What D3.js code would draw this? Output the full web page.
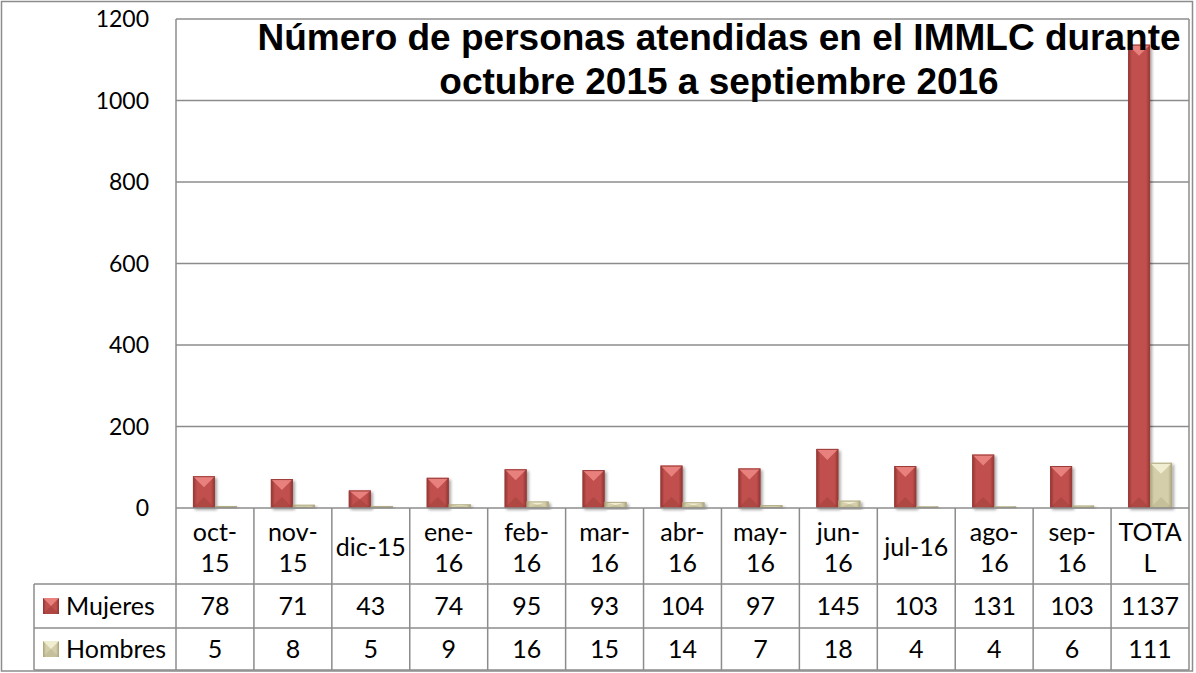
<!DOCTYPE html>
<html>
<head>
<meta charset="utf-8">
<script src="https://cdn.jsdelivr.net/npm/d3@7"></script>
<style>
  body { margin: 0; background: #fff; }
  svg text { font-family: Lato, "Open Sans", sans-serif; }
</style>
</head>
<body>
<div id="chart"></div>
<script>
// --- datos ---
const categorias = ["oct-15", "nov-15", "dic-15", "ene-16", "feb-16", "mar-16", "abr-16",
                    "may-16", "jun-16", "jul-16", "ago-16", "sep-16", "TOTAL"];
// cómo se parte cada etiqueta en la tabla (Excel las corta así)
const etiquetas = [["oct-", "15"], ["nov-", "15"], ["dic-15"], ["ene-", "16"], ["feb-", "16"],
                   ["mar-", "16"], ["abr-", "16"], ["may-", "16"], ["jun-", "16"], ["jul-16"],
                   ["ago-", "16"], ["sep-", "16"], ["TOTA", "L"]];
const series = ["Mujeres", "Hombres"];
const mujeres = [78, 71, 43, 74, 95, 93, 104, 97, 145, 103, 131, 103, 1137];
const hombres = [5, 8, 5, 9, 16, 15, 14, 7, 18, 4, 4, 6, 111];
const ticksY = [0, 200, 400, 600, 800, 1000, 1200];
const titulo = ["Número de personas atendidas en el IMMLC durante", "octubre 2015 a septiembre 2016"];

const W = 1196, H = 673;
const plot = { left: 176, right: 1189, top: 19, bottom: 508 };
const filas = { head: 584, r1: 628, r2: 670 };
const leyendaX = 34;
const gris = "#8c8c8c";
const fuenteTabla = 25;

const colores = {
  Mujeres: { base: "#c0504d", claro: "#ef8a86", oscuro: "#8f3432", borde: "#9b3d3a" },
  Hombres: { base: "#d4cfaa", claro: "#f6f2d8", oscuro: "#a8a27c", borde: "#b0aa85" }
};

const svg = d3.select("#chart").append("svg")
  .attr("width", W).attr("height", H);

const defs = svg.append("defs");
series.forEach(s => {
  const g = defs.append("linearGradient").attr("id", "grad-" + s)
    .attr("x1", 0).attr("x2", 1).attr("y1", 0).attr("y2", 0);
  g.append("stop").attr("offset", "0%").attr("stop-color", colores[s].oscuro);
  g.append("stop").attr("offset", "18%").attr("stop-color", colores[s].base);
  g.append("stop").attr("offset", "82%").attr("stop-color", colores[s].base);
  g.append("stop").attr("offset", "100%").attr("stop-color", colores[s].oscuro);
});
const sombra = defs.append("filter").attr("id", "sombra")
  .attr("x", "-30%").attr("y", "-10%").attr("width", "160%").attr("height", "130%");
sombra.append("feGaussianBlur").attr("in", "SourceAlpha").attr("stdDeviation", 1.5);
sombra.append("feOffset").attr("dx", 1.5).attr("dy", 1.5).attr("result", "b");
sombra.append("feComponentTransfer").append("feFuncA").attr("type", "linear").attr("slope", 0.35);
const merge = sombra.append("feMerge");
merge.append("feMergeNode");
merge.append("feMergeNode").attr("in", "SourceGraphic");

// --- escalas ---
const x = d3.scaleBand().domain(categorias).range([plot.left, plot.right]).padding(0);
const xs = d3.scaleBand().domain(series).range([0, x.bandwidth()])
  .paddingInner(0).paddingOuter(0.77);
const y = d3.scaleLinear().domain([0, 1200]).range([plot.bottom, plot.top]);

// borde exterior
svg.append("rect").attr("x", 1.5).attr("y", 1.5).attr("width", 1191).attr("height", 669.5)
  .attr("fill", "none").attr("stroke", gris).attr("stroke-width", 1.5);

// líneas de la cuadrícula
svg.append("g").selectAll("line").data(ticksY.slice(1)).join("line")
  .attr("x1", plot.left).attr("x2", plot.right)
  .attr("y1", d => y(d)).attr("y2", d => y(d))
  .attr("stroke", gris).attr("stroke-width", 1.5);

// eje y (solo etiquetas)
svg.append("g").selectAll("text").data(ticksY).join("text")
  .attr("x", 149).attr("y", d => y(d)).attr("dy", "0.36em")
  .attr("text-anchor", "end").attr("font-size", 23).attr("fill", "#000")
  .text(d => d);

// eje izquierdo y borde derecho
svg.append("line").attr("x1", plot.left).attr("x2", plot.left).attr("y1", plot.top).attr("y2", filas.r2)
  .attr("stroke", gris).attr("stroke-width", 1.5);
svg.append("line").attr("x1", plot.right).attr("x2", plot.right).attr("y1", plot.top).attr("y2", filas.r2)
  .attr("stroke", gris).attr("stroke-width", 1.5);

// --- barras con bisel ---
const datos = [];
categorias.forEach((c, i) => {
  datos.push({ cat: c, serie: "Mujeres", valor: mujeres[i] });
  datos.push({ cat: c, serie: "Hombres", valor: hombres[i] });
});

const barras = svg.append("g").selectAll("g").data(datos).join("g")
  .attr("filter", "url(#sombra)");
barras.each(function(d) {
  const g = d3.select(this);
  const x0 = x(d.cat) + xs(d.serie), w = xs.bandwidth();
  const y0 = y(d.valor), y1 = y(0), h = y1 - y0;
  const t = Math.min(w / 2, h / 2);
  g.append("rect").attr("x", x0).attr("y", y0).attr("width", w).attr("height", h)
    .attr("fill", `url(#grad-${d.serie})`);
  // triángulo superior claro
  g.append("path")
    .attr("d", `M${x0},${y0} L${x0 + w},${y0} L${x0 + w / 2},${y0 + t} Z`)
    .attr("fill", colores[d.serie].claro).attr("opacity", 0.85);
  // triángulo inferior oscuro
  g.append("path")
    .attr("d", `M${x0},${y1} L${x0 + w},${y1} L${x0 + w / 2},${y1 - t} Z`)
    .attr("fill", colores[d.serie].oscuro).attr("opacity", 0.35);
  g.append("rect").attr("x", x0 + 0.5).attr("y", y0 + 0.5).attr("width", w - 1).attr("height", Math.max(0, h - 1))
    .attr("fill", "none").attr("stroke", colores[d.serie].borde).attr("stroke-width", 1);
});

// --- tabla de datos ---
const tabla = svg.append("g");
tabla.append("line").attr("x1", plot.left).attr("x2", plot.right).attr("y1", plot.bottom).attr("y2", plot.bottom)
  .attr("stroke", gris).attr("stroke-width", 1.5);
[filas.head, filas.r1, filas.r2].forEach(yy => {
  tabla.append("line").attr("x1", leyendaX).attr("x2", plot.right).attr("y1", yy).attr("y2", yy)
    .attr("stroke", gris).attr("stroke-width", 1.5);
});
tabla.append("line").attr("x1", leyendaX).attr("x2", leyendaX).attr("y1", filas.head).attr("y2", filas.r2)
  .attr("stroke", gris).attr("stroke-width", 1.5);
// líneas verticales entre categorías
tabla.selectAll("line.v").data(categorias.slice(1)).join("line").attr("class", "v")
  .attr("x1", d => x(d)).attr("x2", d => x(d)).attr("y1", plot.bottom).attr("y2", filas.r2)
  .attr("stroke", gris).attr("stroke-width", 1.5);

// etiquetas de categoría
const cab = tabla.selectAll("text.cab").data(categorias).join("text").attr("class", "cab")
  .attr("text-anchor", "middle").attr("font-size", fuenteTabla).attr("fill", "#000")
  .attr("x", d => x(d) + x.bandwidth() / 2);
cab.each(function(d, i) {
  const lineas = etiquetas[i];
  const centro = (plot.bottom + filas.head) / 2 + 1;
  const alto = 31;
  lineas.forEach((l, j) => {
    d3.select(this).append("tspan")
      .attr("x", x(d) + x.bandwidth() / 2)
      .attr("y", centro + (j - (lineas.length - 1) / 2) * alto)
      .attr("dy", "0.36em").text(l);
  });
});

// valores
[[mujeres, filas.head, filas.r1], [hombres, filas.r1, filas.r2]].forEach(([vals, a, b]) => {
  tabla.append("g").selectAll("text").data(vals).join("text")
    .attr("x", (d, i) => x(categorias[i]) + x.bandwidth() / 2)
    .attr("y", (a + b) / 2).attr("dy", "0.36em")
    .attr("text-anchor", "middle").attr("font-size", fuenteTabla).attr("fill", "#000")
    .text(d => d);
});

// leyenda dentro de la tabla
series.forEach((s, i) => {
  const a = i === 0 ? filas.head : filas.r1, b = i === 0 ? filas.r1 : filas.r2;
  const cy = (a + b) / 2;
  const k = 16;
  const gx = 43, gy = cy - k / 2;
  tabla.append("rect").attr("x", gx).attr("y", gy).attr("width", k).attr("height", k)
    .attr("fill", `url(#grad-${s})`);
  tabla.append("path").attr("d", `M${gx},${gy} L${gx + k},${gy} L${gx + k / 2},${gy + k / 2} Z`)
    .attr("fill", colores[s].claro).attr("opacity", 0.85);
  tabla.append("path").attr("d", `M${gx},${gy + k} L${gx + k},${gy + k} L${gx + k / 2},${gy + k / 2} Z`)
    .attr("fill", colores[s].oscuro).attr("opacity", 0.35);
  tabla.append("text").attr("x", 66).attr("y", cy).attr("dy", "0.36em")
    .attr("font-size", fuenteTabla).attr("fill", "#000").text(s);
});

// --- título ---
svg.append("g").selectAll("text").data(titulo).join("text")
  .attr("x", 719).attr("y", (d, i) => 50 + i * 44)
  .attr("text-anchor", "middle").attr("font-size", 37).attr("font-weight", "bold")
  .style("font-family", "'Liberation Sans', Arial, sans-serif")
  .text(d => d);
</script>
</body>
</html>
